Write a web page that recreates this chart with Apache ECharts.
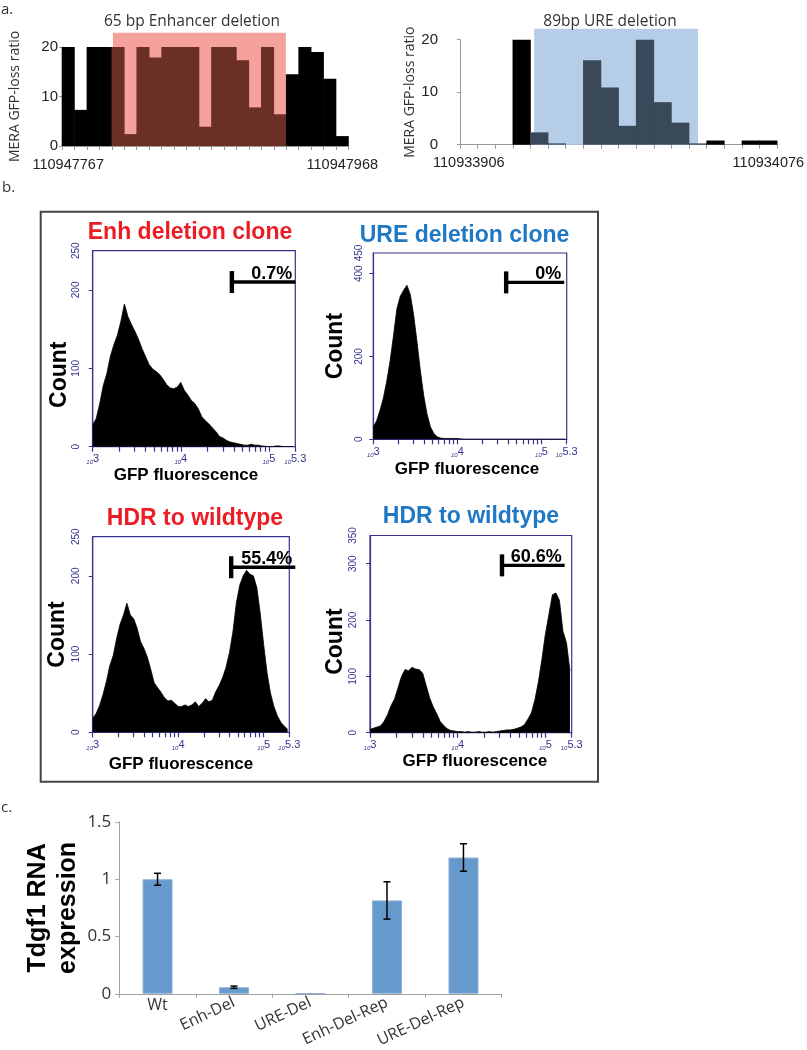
<!DOCTYPE html>
<html><head><meta charset="utf-8">
<script src="https://cdn.jsdelivr.net/npm/echarts@6/dist/echarts.min.js"></script>
<style>html,body{margin:0;padding:0;background:#fff}#c{width:807px;height:1050px}</style>
</head><body><div id="c"></div>
<script>
// ---------- Panel a: MERA GFP-loss ratio per bin ----------
const enhBinValues = [20, 7.3, 20, 20, 20, 2.4, 20, 17.9, 20, 20, 20, 3.9, 20, 20, 17.3, 7.8, 20, 6.4, 14.5, 20, 19.0, 13.6, 2.0];
const enhEdgeLabels = ['110947767', '110947968'];
const enhShade = [4.09, 17.97, 22.9];          // [start bin, end bin, top]
const ureBinValues = [0, 0, 0, 20, 2.35, 0.25, 0, 16.1, 10.9, 3.6, 20, 8.1, 4.2, 0.25, 0.8, 0, 0.8, 0.8];
const ureEdgeLabels = ['110933906', '110934076'];
const ureShade = [4.21, 13.51, 22.1];
const meraTickValues = [0, 10, 20];

// ---------- Panel b: flow histograms (log10 GFP bins) ----------
const flowBinStart = 3.0;
const flowBinWidth = 0.04;
const enhCloneCounts = [28,36,55,78,93,115,130,142,160,182,166,156,147,137,125,115,105,99,96,92,86,79,75,74,76,82,72,66,59,55,48,38,33,29,24,19,13,11,8,6,5,4,3,2,2,3,2,2,1,0.5,0,0,1,1,0,0,0,0];
const ureCloneCounts = [30,45,70,100,140,190,250,315,345,360,372,350,300,235,165,105,60,30,14,6,3,2,2,2,2,2,1,0,0,0,0,0,0,0,0,0,0,0,0,0,0,0,0,0,0,0,0,0,0,0,0,0,0,0,0,0,0,0];
const enhHdrCounts = [18,24,34,48,65,85,98,120,138,150,165,150,145,133,116,107,96,80,63,57,51,44,40,41,37,33,33,35,33,35,39,33,37,43,39,41,52,60,70,83,102,128,165,188,200,207,202,200,185,152,112,76,50,33,21,13,8,4];
const ureHdrCounts = [6,8,10,12,20,32,48,60,80,100,112,110,116,113,112,106,84,62,46,34,20,13,7,4,3,2,2,1,2,1,1,2,1,1,2,1,2,3,4,5,5,6,8,10,14,24,35,58,90,130,175,210,245,248,235,180,160,110];
const flowTickFluor = [1000,2000,3000,4000,5000,6000,7000,8000,9000,10000,20000,30000,40000,50000,60000,70000,80000,90000,100000,199526];
const flowLabelValues = [3, 4, 5, 5.3];
// gates: [start log10, end log10, count level]
const enhCloneGate = [4.58, 5.30, 210]; const enhCloneGateLabel = '0.7%';
const ureCloneGate = [4.58, 5.27, 379]; const ureCloneGateLabel = '0%';
const enhHdrGate = [4.62, 5.37, 211];   const enhHdrGateLabel = '55.4%';
const ureHdrGate = [4.505, 5.22, 297];  const ureHdrGateLabel = '60.6%';
const enhCloneYLabels = [0, 100, 200, 250]; const enhCloneYTicks = [0, 100, 200];
const ureCloneYLabels = [0, 200, 400, 450]; const ureCloneYTicks = [0, 200, 400];
const enhHdrYLabels = [0, 100, 200, 250];   const enhHdrYTicks = [0, 100, 200];
const ureHdrYLabels = [0, 100, 200, 300, 350]; const ureHdrYTicks = [0, 100, 200, 300];

// ---------- Panel c: Tdgf1 RNA expression ----------
const qpcrCategories = ['Wt', 'Enh-Del', 'URE-Del', 'Enh-Del-Rep', 'URE-Del-Rep'];
const qpcrMeans = [1.0, 0.057, 0.004, 0.815, 1.19];
const qpcrErrors = [0.052, 0.01, 0, 0.163, 0.12];

// ---------- styles ----------
const NAVY = '#34348f';
const RED = '#ec1c24';
const BLUE = '#1f78c4';
const NARROW = "'Liberation Sans Narrow','Liberation Sans',Arial,sans-serif";
const ARIAL = "'Liberation Sans',Arial,sans-serif";
const OPEN = "'Open Sans','Noto Sans',sans-serif";

const chart = echarts.init(document.getElementById('c'), null, {renderer: 'canvas', width: 807, height: 1050});

function edgeCategories(n, labels) {
  const arr = [];
  for (let i = 0; i < n; i++) arr.push(i === 0 ? labels[0] : (i === n - 1 ? labels[1] : ' ' + i));
  return arr;
}
// histogram-style bars (no gaps) on the category axis
function meraBarSeries(xIdx, yIdx, values, shade, dark) {
  return {
    type: 'custom', xAxisIndex: xIdx, yAxisIndex: yIdx, z: 2, silent: true,
    encode: {x: 0, y: 1},
    data: values.map((v, i) => [i, v]),
    renderItem: function (params, api) {
      const i = api.value(0), v = api.value(1);
      if (!(v > 0)) return null;
      const top = api.coord([i, v]);
      const base = api.coord([i, 0]);
      const w = api.size([1, 0])[0];
      const inShade = (i + 0.5 > shade[0] && i + 0.5 < shade[1]);
      return {type: 'rect', shape: {x: top[0] - w / 2 - 0.3, y: top[1], width: w + 0.6, height: base[1] - top[1]},
        style: {fill: inShade ? dark : '#000'}};
    }
  };
}
function shadeSeries(xIdx, yIdx, shade, color) {
  return {
    type: 'custom', xAxisIndex: xIdx, yAxisIndex: yIdx, z: 1, silent: true,
    encode: {x: [0, 1], y: 2},
    data: [shade],
    renderItem: function (params, api) {
      const a = api.coord([api.value(0), 0]);
      const b = api.coord([api.value(1), api.value(2)]);
      return {type: 'rect', shape: {x: a[0], y: b[1], width: b[0] - a[0], height: a[1] - b[1]}, style: {fill: color}};
    }
  };
}
function meraXAxes(grid, n, labels) {
  return [
    {gridIndex: grid, type: 'category', data: edgeCategories(n, labels), position: 'bottom',
      axisLine: {lineStyle: {color: '#999', width: 1}},
      axisTick: {show: true, alignWithLabel: false, length: 4, lineStyle: {color: '#999'}},
      axisLabel: {interval: 0, margin: 11, fontSize: 14.5, color: '#222', fontFamily: NARROW,
        formatter: v => (v.charAt(0) === ' ' ? '' : v)}},
    {gridIndex: grid, type: 'value', min: 0, max: n, show: false, position: 'bottom'}
  ];
}
function meraYAxis(grid, margin, gap) {
  return {gridIndex: grid, type: 'value', min: 0, max: 20, interval: 10,
    axisLine: {show: true, lineStyle: {color: '#999'}},
    axisTick: {show: true, length: 3, lineStyle: {color: '#999'}},
    splitLine: {show: false},
    axisLabel: {customValues: meraTickValues, margin: margin, fontSize: 15, color: '#222', fontFamily: NARROW},
    name: 'MERA GFP-loss ratio', nameLocation: 'middle', nameGap: gap,
    nameTextStyle: {fontSize: 14, color: '#333', fontFamily: OPEN}};
}

const flowTicks = flowTickFluor.map(v => Math.min(5.3, Math.log10(v)));
function flowXAxis(grid, gap, shift) {
  return {gridIndex: grid, type: 'value', min: 3, max: 5.3,
    axisLine: {show: true, lineStyle: {color: NAVY, width: 1.2}},
    axisTick: {show: true, customValues: flowTicks, length: 5, lineStyle: {color: NAVY, width: 1.2}},
    splitLine: {show: false},
    axisLabel: {customValues: flowLabelValues, margin: 7,
      formatter: v => '{b|10}{e|' + String(+(+v).toFixed(1)) + '}',
      rich: {b: {fontSize: 6, fontStyle: 'italic', color: NAVY, fontFamily: ARIAL, verticalAlign: 'bottom', lineHeight: 12},
             e: {fontSize: 11, color: NAVY, fontFamily: NARROW, verticalAlign: 'top', lineHeight: 12}}},
    name: 'GFP fluorescence', nameLocation: 'middle', nameGap: gap,
    nameTextStyle: {fontSize: 17, fontWeight: 'bold', color: '#000', fontFamily: ARIAL,
      padding: shift >= 0 ? [0, 0, 0, shift] : [0, -shift, 0, 0]}};
}
function flowYAxis(grid, max, labels, ticks, gap, shiftDown, margin) {
  return {gridIndex: grid, type: 'value', min: 0, max: max, interval: 50,
    axisLine: {show: true, lineStyle: {color: NAVY, width: 1.2}},
    axisTick: {show: true, customValues: ticks, length: 4, lineStyle: {color: NAVY}},
    splitLine: {show: false},
    axisLabel: {customValues: labels, rotate: 90, align: 'center', verticalAlign: 'middle', margin: margin,
      fontSize: 10, color: NAVY, fontFamily: NARROW},
    name: 'Count', nameLocation: 'middle', nameGap: gap,
    nameTextStyle: {fontSize: 23, fontWeight: 'bold', color: '#000', fontFamily: ARIAL,
      padding: [0, 2 * shiftDown, 0, 0]}};
}
function flowSeries(axisIdx, counts) {
  return {type: 'line', xAxisIndex: axisIdx, yAxisIndex: axisIdx - 2, symbol: 'none', showSymbol: false,
    lineStyle: {color: '#000', width: 0.8}, areaStyle: {color: '#000', opacity: 1},
    data: counts.map((c, i) => [+(flowBinStart + i * flowBinWidth).toFixed(3), c]), z: 2};
}
function gateSeries(axisIdx, gate, label) {
  return {type: 'custom', xAxisIndex: axisIdx, yAxisIndex: axisIdx - 2, z: 5, silent: true,
    encode: {x: [0, 1], y: 2}, data: [gate],
    renderItem: function (params, api) {
      const p0 = api.coord([api.value(0), api.value(2)]);
      const p1 = api.coord([api.value(1), api.value(2)]);
      return {type: 'group', children: [
        {type: 'rect', shape: {x: p0[0] - 2.2, y: p0[1] - 11, width: 4.4, height: 22}, style: {fill: '#000'}},
        {type: 'rect', shape: {x: p0[0], y: p0[1] - 1.7, width: p1[0] - p0[0], height: 3.4}, style: {fill: '#000'}},
        {type: 'text', x: p1[0] - 3, y: p0[1] + 0.5, style: {text: label, fill: '#000',
          font: 'bold 18px ' + ARIAL, textAlign: 'right', textVerticalAlign: 'bottom'}}
      ]};
    }};
}

const errorData = qpcrMeans.map((m, i) => [i, m - qpcrErrors[i], m + qpcrErrors[i], qpcrErrors[i]]);

function ttl(text, cx, cy, style) {
  return {text: text, left: cx - 5, top: cy - 5, textAlign: 'center', textVerticalAlign: 'middle', textStyle: style};
}
const histTitle = c => ({fontSize: 23, fontWeight: 'bold', color: c, fontFamily: ARIAL});
const delTitle = {fontSize: 15.5, fontWeight: 'normal', color: '#333', fontFamily: OPEN};

const option = {
  animation: false,
  backgroundColor: '#fff',
  title: [
    ttl('65 bp Enhancer deletion', 192, 22, delTitle),
    ttl('89bp URE deletion', 610, 22, delTitle),
    ttl('Enh deletion clone', 190, 233, histTitle(RED)),
    ttl('URE deletion clone', 464.5, 236, histTitle(BLUE)),
    ttl('HDR to wildtype', 195, 519, histTitle(RED)),
    ttl('HDR to wildtype', 471, 517, histTitle(BLUE))
  ],
  grid: [
    {left: 62, top: 47, width: 286.5, height: 99, containLabel: false},
    {left: 460, top: 39.7, width: 321, height: 105, containLabel: false},
    {left: 92.7, top: 250.7, width: 202.6, height: 196, show: true, borderColor: NAVY, borderWidth: 1.2},
    {left: 373.3, top: 253, width: 193.4, height: 186.3, show: true, borderColor: NAVY, borderWidth: 1.2},
    {left: 92.7, top: 536.7, width: 196.6, height: 195.6, show: true, borderColor: NAVY, borderWidth: 1.2},
    {left: 370, top: 535.5, width: 201.7, height: 197.2, show: true, borderColor: NAVY, borderWidth: 1.2},
    {left: 119.3, top: 822, width: 382.4, height: 172.3}
  ],
  xAxis: [
    ...meraXAxes(0, enhBinValues.length, enhEdgeLabels),
    ...meraXAxes(1, ureBinValues.length, ureEdgeLabels),
    flowXAxis(2, 20, -16),
    flowXAxis(3, 22, -6),
    flowXAxis(4, 24, -20),
    flowXAxis(5, 20.5, 8),
    {gridIndex: 6, type: 'category', data: qpcrCategories,
      axisLine: {lineStyle: {color: '#a0a0a0'}},
      axisTick: {show: true, alignWithLabel: false, length: 4, lineStyle: {color: '#a0a0a0'}},
      axisLabel: {interval: 0, margin: 4, fontSize: 16, color: '#333', fontFamily: OPEN,
        formatter: v => (v === 'Wt' ? v : '')}},
    {gridIndex: 6, type: 'category', data: qpcrCategories, position: 'bottom',
      axisLine: {show: false}, axisTick: {show: false},
      axisLabel: {interval: 0, margin: 8, rotate: 25, fontSize: 16, color: '#333', fontFamily: OPEN,
        formatter: v => (v === 'Wt' ? '' : v)}}
  ],
  yAxis: [
    meraYAxis(0, 4, 40),
    meraYAxis(1, 22, 31),
    flowYAxis(2, 250, enhCloneYLabels, enhCloneYTicks, 21, 26, 16),
    flowYAxis(3, 450, ureCloneYLabels, ureCloneYTicks, 26, 0, 14),
    flowYAxis(4, 250, enhHdrYLabels, enhHdrYTicks, 23.5, 0, 16),
    flowYAxis(5, 350, ureHdrYLabels, ureHdrYTicks, 20, 7.5, 16.5),
    {gridIndex: 6, type: 'value', min: 0, max: 1.5, interval: 0.5,
      axisLine: {show: true, lineStyle: {color: '#a0a0a0'}},
      axisTick: {show: true, length: 4, lineStyle: {color: '#a0a0a0'}},
      splitLine: {show: false},
      axisLabel: {margin: 8, fontSize: 17, color: '#333', fontFamily: OPEN},
      name: 'Tdgf1 RNA\nexpression', nameLocation: 'middle', nameGap: 31,
      nameTextStyle: {fontSize: 25, fontWeight: 'bold', color: '#000', fontFamily: ARIAL, lineHeight: 30}}
  ],
  series: [
    shadeSeries(1, 0, enhShade, '#f5a29c'),
    meraBarSeries(0, 0, enhBinValues, enhShade, '#6b2f25'),
    shadeSeries(3, 1, ureShade, '#b5cde6'),
    meraBarSeries(2, 1, ureBinValues, ureShade, '#3a4959'),
    flowSeries(4, enhCloneCounts),
    flowSeries(5, ureCloneCounts),
    flowSeries(6, enhHdrCounts),
    flowSeries(7, ureHdrCounts),
    gateSeries(4, enhCloneGate, enhCloneGateLabel),
    gateSeries(5, ureCloneGate, ureCloneGateLabel),
    gateSeries(6, enhHdrGate, enhHdrGateLabel),
    gateSeries(7, ureHdrGate, ureHdrGateLabel),
    {type: 'bar', xAxisIndex: 8, yAxisIndex: 6, barWidth: 30, data: qpcrMeans,
      itemStyle: {color: '#6699cc', borderColor: '#8db2db', borderWidth: 1}},
    {type: 'custom', xAxisIndex: 8, yAxisIndex: 6, z: 5, silent: true,
      encode: {x: 0, y: [1, 2]}, data: errorData,
      renderItem: function (params, api) {
        if (api.value(3) <= 0) return null;
        const lo = api.coord([api.value(0), api.value(1)]);
        const hi = api.coord([api.value(0), api.value(2)]);
        const st = {stroke: '#000', lineWidth: 1.5};
        return {type: 'group', children: [
          {type: 'line', shape: {x1: lo[0], y1: lo[1], x2: hi[0], y2: hi[1]}, style: st},
          {type: 'line', shape: {x1: lo[0] - 3.5, y1: lo[1], x2: lo[0] + 3.5, y2: lo[1]}, style: st},
          {type: 'line', shape: {x1: hi[0] - 3.5, y1: hi[1], x2: hi[0] + 3.5, y2: hi[1]}, style: st}
        ]};
      }}
  ],
  graphic: {elements: [
    {type: 'rect', shape: {x: 40.7, y: 211.7, width: 557.3, height: 570}, style: {fill: 'none', stroke: '#444', lineWidth: 2}, silent: true},
    {type: 'text', x: 1, y: 2, style: {text: 'a.', font: '15px ' + OPEN, fill: '#333'}},
    {type: 'text', x: 2, y: 180, style: {text: 'b.', font: '15px ' + OPEN, fill: '#333'}},
    {type: 'text', x: 1, y: 800, style: {text: 'c.', font: '15px ' + OPEN, fill: '#333'}}
  ]}
};
chart.setOption(option);
</script>
</body></html>
